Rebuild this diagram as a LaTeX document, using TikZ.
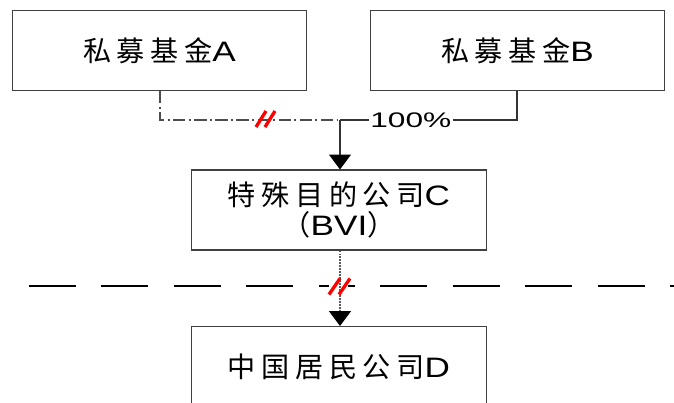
\documentclass[tikz,border=0pt]{standalone}
\usepackage{fontspec}
\usetikzlibrary{arrows.meta}
\setmainfont[FakeStretch=1.25]{Liberation Sans}
\newfontfamily\cjk[LetterSpace=20]{Noto Sans CJK SC}
\newfontfamily\widefont[FakeStretch=1.5]{Liberation Sans}
\tikzset{
  entity/.style={draw=black!75,line width=0.6pt,minimum width=5.9cm,minimum height=1.6cm,inner sep=0pt,font=\fontsize{16}{20}\selectfont,align=center},
  own/.style={draw=black!80,line width=0.7pt},
  tip/.style={-{Triangle[length=8.5pt,width=12.5pt,color=black]}},
  border/.style={line width=1.2pt,dash pattern=on 0.94cm off 0.51cm},
  cutmark/.style={draw=red,line width=1.9pt}
}
\begin{document}
\begin{tikzpicture}[x=0.02cm,y=-0.02cm]
  \useasboundingbox (0,0) rectangle (674,403);
  % boxes
  \node[entity] (fundA) at (159.5,50.5) {{\cjk 私募基金}A};
  \node[entity] (fundB) at (517.5,50.5) {{\cjk 私募基金}B};
  \node[entity] (spvC) at (339,210) {{\cjk 特殊目的公司}C\\[-3pt]{\cjk （}BVI{\cjk ）}};
  \node[entity,anchor=north] (resD) at (339,326) {{\cjk 中国居民公司}D};
  % joint of the two lines
  \coordinate (join) at (340,120);
  \draw[own,dash pattern=on 7pt off 2pt on 1pt off 2pt,draw=black!70] (fundA.south -| 160,0) |- (join);
  \draw[own] (fundB.south -| 517,0) |- node[pos=0.8,fill=white,inner sep=1pt,font=\widefont\fontsize{12}{14}\selectfont] (pct) {100\%} (join);
  \draw[own,tip] (join) -- (spvC.north -| join);
  % border line, broken at the mark
  \coordinate (lineL) at (29,286);
  \coordinate (gapL) at (329,286);
  \coordinate (gapR) at (348,286);
  \coordinate (lineR) at (674,286);
  \draw[border] (lineL) -- (gapL);
  \draw[border,dash phase=0.8cm] (gapR) -- (lineR);
  \draw[own,densely dotted,draw=black!65,tip] (spvC.south -| join) -- (resD.north -| join);
  % cut marks
  \draw[cutmark] (265,119) ++(-9,8) -- ++(10,-16) (265,119) ++(0,8) -- ++(10,-16);
  \draw[cutmark] (339,286.5) ++(-10,8) -- ++(11,-16) (339,286.5) ++(0,8) -- ++(11,-16);
\end{tikzpicture}
\end{document}
